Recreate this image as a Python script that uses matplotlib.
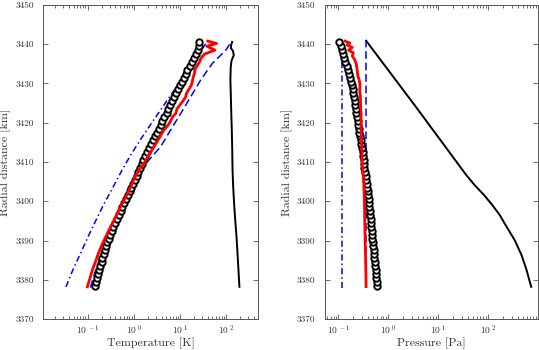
import numpy as np
import matplotlib
matplotlib.use("Agg")
import matplotlib.pyplot as plt
from matplotlib.ticker import FixedLocator, FixedFormatter, LogLocator, NullFormatter

plt.rcParams['font.family'] = 'serif'
plt.rcParams['font.serif'] = ['cmr10', 'DejaVu Serif']
plt.rcParams['mathtext.fontset'] = 'cm'
plt.rcParams['axes.unicode_minus'] = False

# ---------------- data: temperature panel ----------------
circ_alt = [3378.5 + k for k in range(63)]
circ_T = [0.145, 0.151, 0.162, 0.170, 0.178, 0.186, 0.200, 0.209, 0.224, 0.240,
          0.251, 0.269, 0.288, 0.309, 0.339, 0.363, 0.398, 0.437, 0.479, 0.525,
          0.562, 0.617, 0.676, 0.741, 0.813, 0.891, 0.977, 1.07, 1.17, 1.26,
          1.38, 1.51, 1.62, 1.78, 1.95, 2.14, 2.34, 2.57, 2.82, 3.16,
          3.47, 3.80, 4.17, 4.57, 5.13, 5.62, 6.17, 6.76, 7.41, 8.13,
          8.91, 9.77, 11.0, 12.0, 13.2, 14.5, 16.2, 17.8, 20.0, 21.9,
          25.1, 25.7, 25.7]

red_T_alt = [3378.2, 3380, 3382.5, 3384.5, 3386.7, 3389, 3391, 3393, 3395.2, 3397.5,
             3399.5, 3401.5, 3403.7, 3406, 3408, 3409.7, 3412, 3413.9, 3416, 3418.2,
             3419.5, 3420.5, 3421.5, 3422.4, 3423.5, 3424.5, 3425.5, 3426.6, 3427.5, 3428.5,
             3429.5, 3430.5, 3431.5, 3432.5, 3433.5, 3434.5, 3435.5, 3436.5, 3437.5, 3438.5,
             3439.5, 3440.2, 3440.8]
red_T = [0.099, 0.110, 0.127, 0.147, 0.171, 0.206, 0.248, 0.30, 0.375, 0.46,
         0.57, 0.70, 0.86, 1.05, 1.30, 1.67, 2.15, 2.75, 3.5, 4.5,
         5.6, 6.3, 6.9, 8.1, 8.6, 9.9, 11.5, 13.3, 13.8, 15.5,
         17.5, 18.5, 19.2, 20.5, 21.0, 23.5, 26.5, 28.5, 34, 57,
         38, 62, 40]

dash_T_alt = [3378, 3382, 3386, 3390, 3394, 3398, 3401, 3404, 3407, 3409.7,
              3413.9, 3418.2, 3422.4, 3426.6, 3430.9, 3435.1, 3438.5, 3440.8]
dash_T = [0.115, 0.145, 0.19, 0.25, 0.36, 0.52, 0.72, 1.02, 1.38, 1.85,
          3.8, 6.3, 10.4, 17, 28, 50, 98, 132]

dd_T_alt = [3378.2, 3382.5, 3386.7, 3391, 3395.2, 3399.5, 3403.7, 3408, 3412, 3416,
            3420, 3424, 3428, 3432, 3436, 3438.5, 3440.6]
dd_T = [0.034, 0.048, 0.070, 0.103, 0.152, 0.23, 0.36, 0.56, 0.88, 1.45,
        2.45, 4.2, 7.2, 12.5, 21, 29, 38]

blk_T_alt = [3378.2, 3382.5, 3387, 3391, 3395, 3399.5, 3404, 3408, 3413, 3418.2,
             3422, 3426.6, 3430.9, 3434, 3435.8, 3437.2, 3438.3, 3439, 3439.8, 3440.6]
blk_T = [193, 184, 175, 167, 157, 148, 141, 137, 135, 132,
         129, 126, 123, 125, 130, 146, 140, 126, 128, 134]

# ---------------- data: pressure panel ----------------
circ_P = [0.598, 0.587, 0.577, 0.568, 0.557, 0.547, 0.537, 0.527, 0.519, 0.509,
          0.500, 0.491, 0.482, 0.474, 0.466, 0.457, 0.449, 0.441, 0.434, 0.426,
          0.418, 0.410, 0.403, 0.394, 0.385, 0.376, 0.367, 0.359, 0.350, 0.342,
          0.334, 0.327, 0.319, 0.312, 0.305, 0.298, 0.289, 0.281, 0.273, 0.265,
          0.258, 0.251, 0.243, 0.237, 0.230, 0.223, 0.217, 0.211, 0.205, 0.199,
          0.193, 0.188, 0.182, 0.173, 0.163, 0.155, 0.146, 0.138, 0.131, 0.124,
          0.117, 0.111, 0.105]

red_P_alt = [3378.3, 3385, 3390, 3395, 3400, 3405, 3409.7, 3413.9, 3418.2, 3420,
             3422.4, 3424, 3426.6, 3428, 3429.5, 3430.9, 3432, 3433.5, 3435.1, 3436.2,
             3437, 3437.8, 3438.5, 3439.2, 3439.8, 3440.3, 3440.8]
red_P = [0.36, 0.352, 0.344, 0.338, 0.333, 0.322, 0.30, 0.294, 0.287, 0.283,
         0.286, 0.279, 0.277, 0.268, 0.272, 0.262, 0.245, 0.238, 0.227, 0.21,
         0.19, 0.20, 0.16, 0.19, 0.15, 0.17, 0.135]

dash_P_alt = [3378, 3440.9]
dash_P = [0.36, 0.36]
dd_P_alt = [3378, 3440.5]
dd_P = [0.12, 0.12]

blk_P_alt = [3378.2, 3382.5, 3386.3, 3390.1, 3393.9, 3396.5, 3399.0, 3401.6,
             3404.1, 3406.7, 3424, 3440.9]
blk_P = [731, 589, 467, 341, 225, 171, 122, 82.8, 53.9, 36.4, 3.6, 0.36]

y_ticks = [3370, 3380, 3390, 3400, 3410, 3420, 3430, 3440, 3450]
x_ticks = [0.1, 1, 10, 100]
x_ticklabels = [r'$10^{\;-1}$', r'$10^{\;0}$', r'$10^{\;1}$', r'$10^{\;2}$']

# ---------------- figure ----------------
fig = plt.figure(figsize=(5.39, 3.5), dpi=100)
axL = fig.add_axes([43.3 / 539, 31 / 350, (257.7 - 43.3) / 539, 314 / 350])
axR = fig.add_axes([325 / 539, 31 / 350, (538 - 325) / 539, 314 / 350])

spine_col = '#555555'
text_col = '#333333'


def style(ax, xlim, xlabel):
    ax.set_xscale('log')
    ax.set_xlim(*xlim)
    ax.set_ylim(3370, 3450)
    ax.yaxis.set_major_locator(FixedLocator(y_ticks))
    ax.set_yticklabels([str(v) for v in y_ticks])
    ax.xaxis.set_major_locator(FixedLocator(x_ticks))
    ax.xaxis.set_major_formatter(FixedFormatter(x_ticklabels))
    ax.xaxis.set_minor_locator(LogLocator(base=10, subs=np.arange(2, 10), numticks=20))
    ax.xaxis.set_minor_formatter(NullFormatter())
    ax.tick_params(which='both', direction='in', top=True, right=True,
                   colors=spine_col, labelcolor=text_col, width=0.6)
    ax.tick_params(which='major', length=3.5)
    ax.tick_params(which='minor', length=2)
    ax.tick_params(axis='y', labelsize=6.7, pad=7)
    ax.tick_params(axis='x', labelsize=6.8, pad=3.5)
    for s in ax.spines.values():
        s.set_color(spine_col)
        s.set_linewidth(0.7)
    ax.set_xlabel(xlabel, fontsize=8.6, color=text_col)
    ax.xaxis.set_label_coords(0.5, -0.06)
    ax.set_ylabel('Radial distance [km]', fontsize=8.6, color=text_col, labelpad=3)


def draw(ax, blk_x, blk_y, dash_x, dash_y, dd_x, dd_y, circ_x, red_x, red_y):
    ax.plot(blk_x, blk_y, color='black', lw=1.4)
    ln, = ax.plot(dash_x, dash_y, color='#0000ff', lw=1.1)
    ln.set_dashes([5, 2.5])
    ln2, = ax.plot(dd_x, dd_y, color='#0000ff', lw=1.1)
    ln2.set_dashes([4, 2, 1, 2])
    ax.plot(circ_x, circ_alt, linestyle='none', marker='o', ms=4.6,
            mfc='white', mec='black', mew=1.4)
    ax.plot(red_x, red_y, color='#ff0000', lw=2.0)


draw(axL, blk_T, blk_T_alt, dash_T, dash_T_alt, dd_T, dd_T_alt, circ_T, red_T, red_T_alt)
draw(axR, blk_P, blk_P_alt, dash_P, dash_P_alt, dd_P, dd_P_alt, circ_P, red_P, red_P_alt)

style(axL, (0.011, 480), 'Temperature [K]')
style(axR, (0.054, 1000), 'Pressure [Pa]')

fig.savefig('out.png', dpi=100)
